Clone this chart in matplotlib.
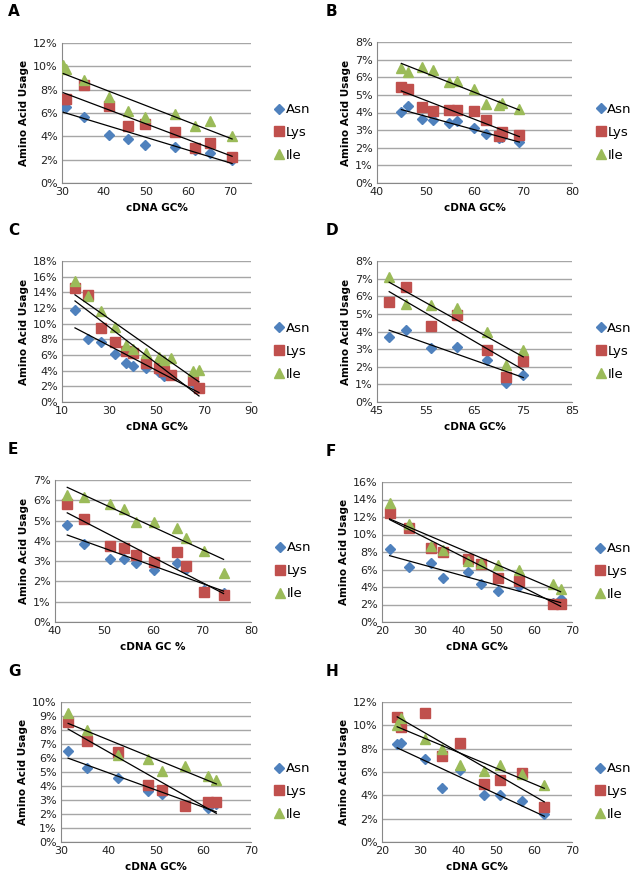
import matplotlib
matplotlib.use("Agg")
import matplotlib.pyplot as plt
import numpy as np
from matplotlib.ticker import FuncFormatter, MultipleLocator

# --- data (GC% on x, usage in % on y) ---
a_gc = [30.3, 31.0, 35.3, 41.2, 45.6, 49.8, 56.9, 61.6, 65.2, 70.5]
a_asn = [6.6, 6.5, 5.7, 4.1, 3.8, 3.3, 3.1, 2.8, 2.6, 2.0]
a_lys = [7.2, 7.2, 8.4, 6.6, 4.9, 5.1, 4.4, 3.0, 3.4, 2.2]
a_ile = [10.1, 9.8, 8.8, 7.4, 6.2, 5.7, 5.9, 4.9, 5.3, 4.0]

b_gc = [45.0, 46.3, 49.3, 51.4, 54.8, 56.4, 59.8, 62.4, 65.0, 65.6, 69.2]
b_asn = [4.05, 4.35, 3.65, 3.55, 3.4, 3.5, 3.1, 2.8, 2.55, 2.6, 2.35]
b_lys = [5.45, 5.35, 4.3, 4.1, 4.15, 4.15, 4.1, 3.6, 2.65, 2.9, 2.75]
b_ile = [6.55, 6.3, 6.6, 6.4, 5.75, 5.8, 5.35, 4.5, 4.4, 4.55, 4.2]

c_gc = [15.5, 21.0, 26.5, 32.5, 37.0, 40.0, 45.5, 51.0, 53.0, 56.0, 65.5, 68.0]
c_asn = [11.8, 8.1, 7.6, 6.1, 5.0, 4.6, 4.3, 3.8, 3.3, 3.5, 2.4, 1.8]
c_lys = [14.6, 13.6, 9.5, 7.7, 6.5, 6.2, 5.0, 4.4, 4.0, 3.5, 2.8, 1.8]
c_ile = [15.5, 13.5, 11.6, 9.6, 7.3, 6.8, 6.2, 5.8, 5.3, 5.6, 4.0, 4.1]

d_gc = [47.5, 51.0, 56.0, 61.5, 67.5, 71.5, 75.0]
d_asn = [3.7, 4.1, 3.05, 3.1, 2.4, 1.1, 1.55]
d_lys = [5.65, 6.5, 4.3, 4.95, 2.95, 1.4, 2.35]
d_ile = [7.1, 5.55, 5.5, 5.35, 4.0, 2.1, 2.95]

e_gc = [42.5, 46.0, 51.3, 54.0, 56.5, 60.2, 64.8, 66.8, 70.5, 74.4]
e_asn = [4.8, 3.85, 3.1, 3.1, 2.9, 2.55, 2.9, 2.6, 1.6, 1.45]
e_lys = [5.8, 5.1, 3.75, 3.65, 3.3, 2.95, 3.45, 2.75, 1.5, 1.35]
e_ile = [6.25, 6.15, 5.8, 5.55, 4.95, 4.95, 4.65, 4.15, 3.5, 2.4]

f_gc = [22.0, 27.0, 33.0, 36.0, 42.5, 46.0, 50.5, 56.0, 65.0, 67.0]
f_asn = [8.4, 6.3, 6.8, 5.0, 5.7, 4.3, 3.6, 4.1, 2.2, 2.6]
f_lys = [12.5, 10.8, 8.5, 8.0, 7.2, 6.6, 5.0, 4.7, 2.1, 2.1]
f_ile = [13.6, 11.2, 8.7, 8.2, 7.0, 6.8, 6.5, 6.0, 4.4, 3.8]

g_gc = [31.5, 35.5, 42.0, 48.3, 51.2, 56.0, 61.0, 62.7]
g_asn = [6.5, 5.3, 4.55, 3.65, 3.45, 2.6, 2.4, 2.7]
g_lys = [8.6, 7.2, 6.4, 4.1, 3.7, 2.55, 2.85, 2.85]
g_ile = [9.2, 8.0, 6.2, 5.95, 5.05, 5.4, 4.7, 4.4]

h_gc = [24.0, 25.0, 31.2, 35.7, 40.5, 46.8, 51.0, 56.8, 62.7]
h_asn = [8.4, 8.45, 7.15, 4.65, 6.15, 4.05, 4.0, 3.5, 2.4]
h_lys = [10.7, 9.9, 11.1, 7.4, 8.5, 5.0, 5.3, 5.95, 3.0]
h_ile = [10.0, 10.6, 8.8, 8.0, 6.6, 6.1, 6.6, 5.8, 4.9]

# panel letter, data, x range/step, y max/step, xlabel
panels = [
    ("A", a_gc, a_asn, a_lys, a_ile, (30, 75, 10), (12, 2), "cDNA GC%"),
    ("B", b_gc, b_asn, b_lys, b_ile, (40, 80, 10), (8, 1), "cDNA GC%"),
    ("C", c_gc, c_asn, c_lys, c_ile, (10, 90, 20), (18, 2), "cDNA GC%"),
    ("D", d_gc, d_asn, d_lys, d_ile, (45, 85, 10), (8, 1), "cDNA GC%"),
    ("E", e_gc, e_asn, e_lys, e_ile, (40, 80, 10), (7, 1), "cDNA GC %"),
    ("F", f_gc, f_asn, f_lys, f_ile, (20, 70, 10), (16, 2), "cDNA GC%"),
    ("G", g_gc, g_asn, g_lys, g_ile, (30, 70, 10), (10, 1), "cDNA GC%"),
    ("H", h_gc, h_asn, h_lys, h_ile, (20, 70, 10), (12, 2), "cDNA GC%"),
]

# axes boxes in pixels: left, top, right, bottom
boxes = [
    (62, 43, 251, 183), (377, 42, 572, 183),
    (62, 261, 251, 402), (377, 261, 572, 402),
    (55, 480, 251, 622), (382, 482, 572, 622),
    (61, 702, 251, 842), (382, 702, 572, 842),
]

W, H = 633, 877
fig = plt.figure(figsize=(W / 100, H / 100), dpi=100)

styles = [("Asn", "D", "#4F81BD", 5.5),
          ("Lys", "s", "#C0504D", 7.5),
          ("Ile", "^", "#9BBB59", 7.5)]

for (letter, gc, asn, lys, ile, xr, yr, xlab), (l, t, r, b) in zip(panels, boxes):
    ax = fig.add_axes([l / W, 1 - b / H, (r - l) / W, (b - t) / H])
    gc = np.array(gc)
    for (name, mk, col, ms), vals in zip(styles, [asn, lys, ile]):
        ax.plot(gc, vals, linestyle="none", marker=mk, color=col, ms=ms,
                mec=col, label=name, zorder=3)
    # linear trendlines
    for vals in [asn, lys, ile]:
        k, c = np.polyfit(gc, vals, 1)
        xs = np.array([gc.min(), gc.max()])
        ax.plot(xs, k * xs + c, color="black", lw=0.9, zorder=4)

    ax.set_xlim(xr[0], xr[1])
    ax.set_xticks(np.arange(xr[0], xr[1] + 0.1, xr[2]))
    ax.set_ylim(0, yr[0])
    ax.yaxis.set_major_locator(MultipleLocator(yr[1]))
    ax.yaxis.set_major_formatter(FuncFormatter(lambda v, p: "%d%%" % round(v)))
    ax.grid(axis="y", color="#A6A6A6", lw=1)
    ax.set_axisbelow(True)
    for s in ["top", "right"]:
        ax.spines[s].set_visible(False)
    for s in ["left", "bottom"]:
        ax.spines[s].set_color("#888888")
    ax.tick_params(labelsize=8, length=0, pad=3, colors="#222222")
    ax.set_xlabel(xlab, fontsize=7.5, fontweight="bold", labelpad=4)
    ax.set_ylabel("Amino Acid Usage", fontsize=7.5, fontweight="bold", labelpad=3)

    ax.legend(loc="center left", bbox_to_anchor=(1.1, 0.36),
              frameon=False, fontsize=9.5, handlelength=0.6,
              handletextpad=0.2, labelspacing=0.75, borderaxespad=0)

    # panel letter
    lx = 8 if l < 300 else 326
    fig.text(lx / W, 1 - (t - 31) / H, letter, fontsize=11, fontweight="bold",
             va="center", ha="left")

fig.savefig("out.png", dpi=100)
